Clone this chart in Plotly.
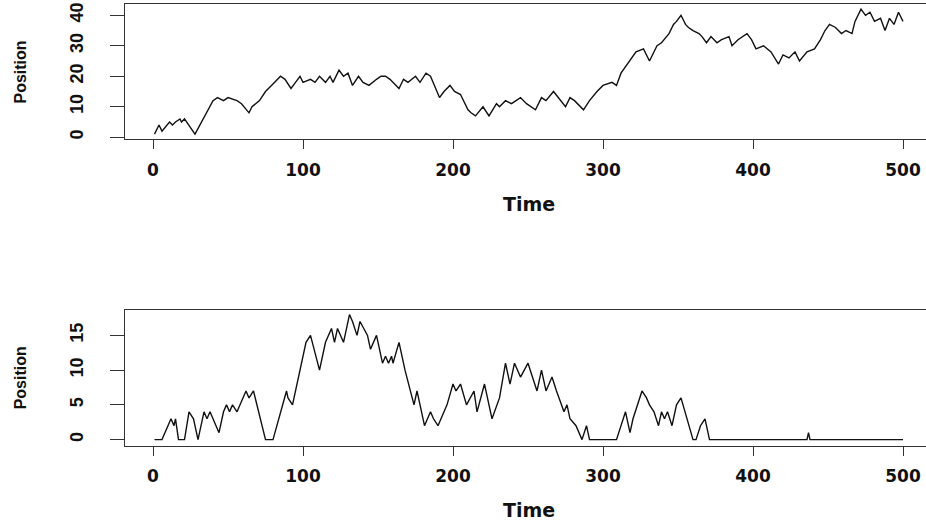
import plotly.graph_objects as go

# Random walk, unrestricted (turning points: time, position)
walk_time = [1, 4, 6, 9, 11, 13, 15, 18, 19, 21, 28, 40, 43, 47, 50, 56, 59, 64, 66, 71,
             75, 79, 85, 88, 92, 95, 98, 100, 105, 108, 111, 115, 118, 120, 124, 127, 130,
             133, 137, 140, 144, 149, 152, 155, 158, 164, 167, 170, 175, 178, 182, 185, 191,
             194, 198, 201, 205, 210, 212, 215, 220, 224, 229, 231, 235, 239, 245, 249, 255,
             259, 262, 267, 270, 275, 278, 281, 287, 291, 296, 300, 306, 309, 312, 318, 322,
             327, 331, 336, 339, 344, 347, 349, 352, 355, 357, 360, 364, 366, 369, 372, 376,
             379, 384, 386, 390, 396, 399, 402, 407, 412, 417, 420, 424, 428, 431, 436, 441,
             445, 448, 451, 455, 459, 462, 466, 468, 472, 475, 478, 481, 485, 488, 491, 494,
             497, 500]
walk_pos = [1, 4, 2, 4, 5, 4, 5, 6, 5, 6, 1, 12, 13, 12, 13, 12, 11, 8, 10, 12,
            15, 17, 20, 19, 16, 18, 20, 18, 19, 18, 20, 18, 20, 18, 22, 20, 21,
            17, 20, 18, 17, 19, 20, 20, 19, 16, 19, 18, 20, 18, 21, 20, 13,
            15, 17, 15, 14, 9, 8, 7, 10, 7, 11, 10, 12, 11, 13, 11, 9,
            13, 12, 15, 13, 10, 13, 12, 9, 12, 15, 17, 18, 17, 21, 25, 28,
            29, 25, 30, 31, 34, 37, 38, 40, 37, 36, 35, 34, 33, 31, 33, 31,
            32, 33, 30, 32, 34, 32, 29, 30, 28, 24, 27, 26, 28, 25, 28, 29,
            32, 35, 37, 36, 34, 35, 34, 38, 42, 40, 41, 38, 39, 35, 39, 37,
            41, 38]

# Random walk reflected at zero (turning points: time, position)
refl_time = [1, 6, 12, 14, 15, 17, 21, 24, 27, 30, 34, 36, 38, 44, 47, 49, 51, 53, 56, 58,
             62, 64, 67, 75, 80, 89, 90, 93, 102, 105, 111, 115, 119, 121, 123, 127, 131,
             133, 136, 138, 143, 145, 149, 153, 155, 157, 159, 160, 164, 168, 174, 176, 181,
             183, 185, 187, 190, 194, 196, 200, 202, 205, 209, 214, 216, 221, 226, 231, 235,
             238, 241, 245, 250, 256, 259, 262, 266, 269, 274, 276, 278, 282, 286, 289, 291,
             309, 315, 318, 320, 326, 329, 331, 334, 337, 339, 341, 343, 346, 349, 352, 356,
             360, 362, 365, 368, 371, 436, 437, 438, 500]
refl_pos = [0, 0, 3, 2, 3, 0, 0, 4, 3, 0, 4, 3, 4, 1, 4, 5, 4, 5, 4, 5,
            7, 6, 7, 0, 0, 7, 6, 5, 14, 15, 10, 14, 16, 14, 16, 14, 18,
            17, 15, 17, 15, 13, 15, 11, 12, 11, 12, 11, 14, 10, 5, 7, 2,
            3, 4, 3, 2, 4, 5, 8, 7, 8, 5, 7, 4, 8, 3, 6, 11,
            8, 11, 9, 11, 7, 10, 7, 9, 7, 4, 5, 3, 2, 0, 2, 0,
            0, 4, 1, 3, 7, 6, 5, 4, 2, 4, 3, 4, 2, 5, 6, 3,
            0, 0, 2, 3, 0, 0, 1, 0, 0]

x_ticks = [0, 100, 200, 300, 400, 500]
top_ticks = [0, 10, 20, 30, 40]
bottom_ticks = [0, 5, 10, 15]

W, H = 926, 522
INK = "#111111"
FRAME = "#333333"

fig = go.Figure()
fig.add_trace(go.Scatter(x=walk_time, y=walk_pos, mode="lines",
                         line=dict(color=INK, width=1.4), xaxis="x", yaxis="y",
                         showlegend=False, hoverinfo="skip"))
fig.add_trace(go.Scatter(x=refl_time, y=refl_pos, mode="lines",
                         line=dict(color=INK, width=1.4), xaxis="x2", yaxis="y2",
                         showlegend=False, hoverinfo="skip"))

left_px = 124.6
x0_px = 153.0
px_per_t = 1.5
x_range = [-(x0_px - left_px) / px_per_t, -(x0_px - left_px) / px_per_t + (W - left_px) / px_per_t]
x_dom = [left_px / W, 1.0]

tick_font_x = dict(family="DejaVu Sans", size=17, color=INK)
tick_font_y = dict(family="Liberation Sans", size=18, color=INK)

def xaxis_style(anchor):
    return dict(domain=x_dom, range=x_range, anchor=anchor, showgrid=False, zeroline=False,
                showline=True, linecolor=FRAME, linewidth=1, mirror=True,
                ticks="outside", ticklen=9, tickwidth=1, tickcolor=FRAME,
                tickvals=x_ticks, ticktext=[f"<b>{v}</b>" for v in x_ticks],
                tickfont=tick_font_x, ticklabelstandoff=6)

def yaxis_style(anchor, dom, rng, vals):
    return dict(domain=dom, range=rng, anchor=anchor, showgrid=False, zeroline=False,
                showline=True, linecolor=FRAME, linewidth=1, mirror=False,
                ticks="outside", ticklen=14, tickwidth=1, tickcolor=FRAME,
                tickvals=vals, ticktext=[f"<b>{v}</b>" for v in vals],
                tickangle=-90, tickfont=tick_font_y, ticklabelstandoff=19)

top_dom = [1 - 137.7 / H, 1 - 2.2 / H]
bot_dom = [1 - 445.3 / H, 1 - 309.0 / H]

fig.update_layout(
    width=W, height=H, margin=dict(l=0, r=0, t=0, b=0),
    paper_bgcolor="white", plot_bgcolor="white",
    xaxis=xaxis_style("y"),
    yaxis=yaxis_style("x", top_dom, [-0.64, 43.64], top_ticks),
    xaxis2=xaxis_style("y2"),
    yaxis2=yaxis_style("x2", bot_dom, [-0.86, 18.68], bottom_ticks),
)

label_font = dict(family="DejaVu Sans", size=19, color=INK)
ylabel_font = dict(family="Liberation Sans", size=16, color=INK)
mid_x = (left_px + x0_px + 519.96 * px_per_t) / 2 / W
for ty in (202.8, 510.4):
    fig.add_annotation(text="<b>Time</b>", x=mid_x, y=1 - ty / H, xref="paper", yref="paper",
                       xanchor="center", yanchor="middle", showarrow=False, font=label_font)
for ty in (70.0, 377.0):
    fig.add_annotation(text="<b>Position</b>", x=20.8 / W, y=1 - ty / H, xref="paper",
                       yref="paper", xanchor="center", yanchor="middle", textangle=-90,
                       showarrow=False, font=ylabel_font)

fig.write_html("out.html")
